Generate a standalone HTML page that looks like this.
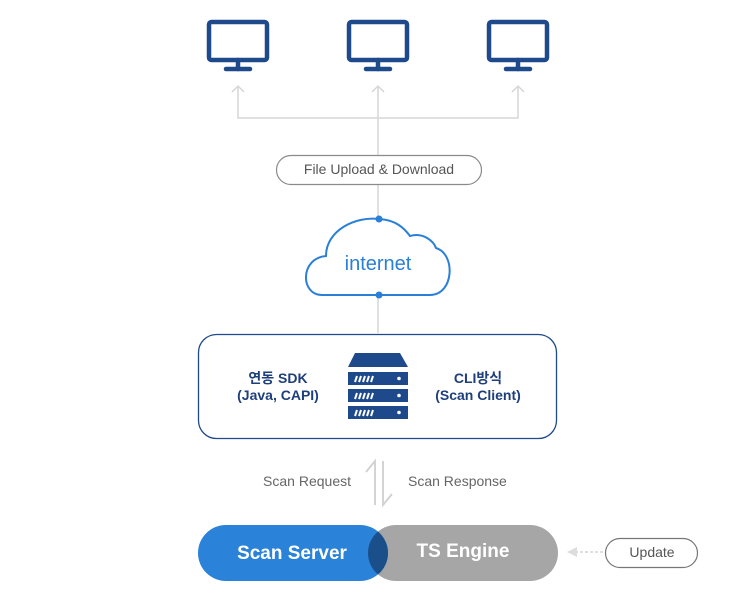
<!DOCTYPE html>
<html><head><meta charset="utf-8"><style>
body{margin:0;background:#fff;}
svg{display:block;font-family:"Liberation Sans","Noto Sans CJK KR",sans-serif;}
</style></head><body>
<svg width="754" height="601" viewBox="0 0 754 601" xmlns="http://www.w3.org/2000/svg">
<defs>
<g id="mon" fill="none" stroke="#1e4a8c" stroke-width="4.5" stroke-linecap="round">
<rect x="-29" y="-18" width="58" height="38" rx="2.5"/>
<line x1="0" y1="20" x2="0" y2="29"/>
<line x1="-12" y1="29" x2="12" y2="29"/>
</g>
</defs>
<use href="#mon" x="238" y="40"/>
<use href="#mon" x="378" y="40"/>
<use href="#mon" x="518" y="40"/>
<g stroke="#d6d6d6" stroke-width="1.5" fill="none">
<polyline points="238,86 238,118 518,118 518,86"/>
<line x1="378" y1="86" x2="378" y2="333"/>
<polyline points="232,92 238,86 244,92"/>
<polyline points="372,92 378,86 384,92"/>
<polyline points="512,92 518,86 524,92"/>
</g>
<rect x="276.5" y="155.5" width="205" height="29" rx="14.5" fill="#fff" stroke="#8a8a8a" stroke-width="1.2"/>
<text x="379" y="174" font-size="14" fill="#555" text-anchor="middle">File Upload &amp; Download</text>
<path d="M322,295 C300,295 300,258 326,256 C326,230 356,216 379,219 C396,220 404,228 410,236 C424,232 434,242 436,248 C456,254 454,295 430,295 Z" fill="#fff" stroke="#2a7fd6" stroke-width="2"/>
<circle cx="379" cy="219" r="3.5" fill="#2a7fd6"/>
<circle cx="379" cy="295" r="3.5" fill="#2a7fd6"/>
<text x="378" y="270" font-size="20" fill="#2a7fd6" text-anchor="middle">internet</text>
<rect x="198.5" y="334.5" width="358" height="104" rx="18" fill="#fff" stroke="#1e4a8c" stroke-width="1.3"/>
<polygon points="355,353 400,353 408,367 348,367" fill="#1e4a8c"/>
<g fill="#1e4a8c"><rect x="348" y="372" width="60" height="13"/><rect x="348" y="389" width="60" height="13"/><rect x="348" y="406" width="60" height="13"/></g>
<g stroke="#fff" stroke-width="2">
<path d="M355,382 l2,-6 M359,382 l2,-6 M363,382 l2,-6 M367,382 l2,-6 M371,382 l2,-6"/>
<path d="M355,399 l2,-6 M359,399 l2,-6 M363,399 l2,-6 M367,399 l2,-6 M371,399 l2,-6"/>
<path d="M355,416 l2,-6 M359,416 l2,-6 M363,416 l2,-6 M367,416 l2,-6 M371,416 l2,-6"/>
</g>
<g fill="#fff"><circle cx="399" cy="378.5" r="1.8"/><circle cx="399" cy="395.5" r="1.8"/><circle cx="399" cy="412.5" r="1.8"/></g>
<g font-size="14" font-weight="bold" fill="#1e3f7c" text-anchor="middle">
<text x="278" y="383">연동 SDK</text><text x="278" y="400">(Java, CAPI)</text>
<text x="478" y="383">CLI방식</text><text x="478" y="400">(Scan Client)</text>
</g>
<g stroke="#d0d0d0" stroke-width="1.8" fill="none">
<polyline points="375,505 375,461 366,472"/>
<polyline points="383,461 383,505 392,494"/>
</g>
<text x="351" y="486" font-size="14" fill="#666" text-anchor="end">Scan Request</text>
<text x="408" y="486" font-size="14" fill="#666">Scan Response</text>
<rect x="368" y="525" width="190" height="56" rx="28" fill="#a6a6a6"/>
<rect x="198" y="525" width="190" height="56" rx="28" fill="#2a82d9"/>
<clipPath id="c"><rect x="198" y="525" width="190" height="56" rx="28"/></clipPath>
<rect x="368" y="525" width="190" height="56" rx="28" fill="#1a4f8a" clip-path="url(#c)"/>
<text x="292" y="559" font-size="19" font-weight="bold" fill="#fff" text-anchor="middle">Scan Server</text>
<text x="463" y="557" font-size="19" font-weight="bold" fill="#fff" text-anchor="middle">TS Engine</text>
<line x1="575" y1="552" x2="605" y2="552" stroke="#ccc" stroke-width="1.2" stroke-dasharray="3,2"/>
<polygon points="567,552 577,547 577,557" fill="#ddd"/>
<rect x="605.5" y="538.5" width="92" height="29" rx="14.5" fill="#fff" stroke="#777" stroke-width="1.2"/>
<text x="652" y="557" font-size="14" fill="#555" text-anchor="middle">Update</text>
</svg>
</body></html>
